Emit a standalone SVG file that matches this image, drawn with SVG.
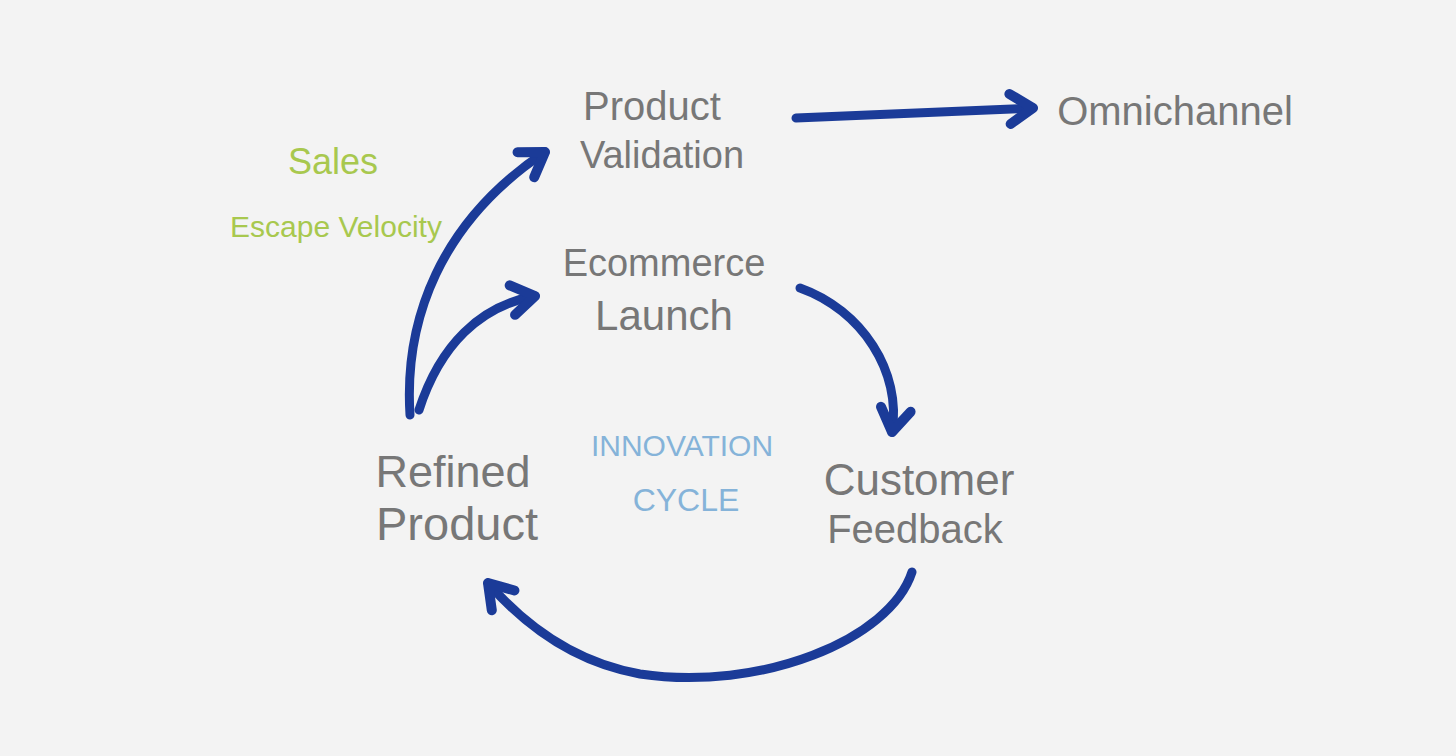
<svg xmlns="http://www.w3.org/2000/svg" width="1456" height="756" viewBox="0 0 1456 756">
<style>
.t{font-family:"Liberation Sans",Arial,sans-serif;fill:#777;text-anchor:middle}
.g{font-family:"Liberation Sans",Arial,sans-serif;fill:#a8c84e;text-anchor:middle}
.b{font-family:"Liberation Sans",Arial,sans-serif;fill:#85b3d9;text-anchor:middle}
.c{fill:none;stroke:#1b3b98;stroke-width:9;stroke-linecap:round;stroke-linejoin:round}
</style>
<defs>
<marker id="ah" markerUnits="userSpaceOnUse" markerWidth="60" markerHeight="60" viewBox="-30 -30 60 60" refX="0" refY="0" orient="auto" overflow="visible">
<path d="M-23,-15 L0,0 L-23,15" fill="none" stroke="#1b3b98" stroke-width="10" stroke-linecap="round" stroke-linejoin="round"/>
</marker>
</defs>
<rect width="1456" height="756" fill="#f3f3f3"/>
<g id="connectors">
<path class="c" d="M796,118 L1033,108" marker-end="url(#ah)"/>
<path class="c" d="M410,415 C404,320 440,222 545,152" marker-end="url(#ah)"/>
<path class="c" d="M419,410 C440,345 480,306 535,296" marker-end="url(#ah)"/>
<path class="c" d="M800,288 C862,310 902,372 892,432" marker-end="url(#ah)"/>
<path class="c" d="M912,572 C890,640 760,692 640,674 C572,662 522,622 488,583" marker-end="url(#ah)"/>
</g>
<g id="node-product-validation">
<text class="t" x="652" y="120" font-size="40">Product</text>
<text class="t" x="662" y="168" font-size="38">Validation</text>
</g>
<g id="node-omnichannel">
<text class="t" x="1175" y="125" font-size="40">Omnichannel</text>
</g>
<g id="node-ecommerce-launch">
<text class="t" x="664" y="276" font-size="38">Ecommerce</text>
<text class="t" x="664" y="330" font-size="42">Launch</text>
</g>
<g id="node-customer-feedback">
<text class="t" x="919" y="495" font-size="44">Customer</text>
<text class="t" x="915" y="543" font-size="40">Feedback</text>
</g>
<g id="node-refined-product">
<text class="t" x="453" y="487" font-size="45">Refined</text>
<text class="t" x="457" y="540" font-size="47">Product</text>
</g>
<g id="label-innovation-cycle">
<text class="b" x="682" y="456" font-size="30">INNOVATION</text>
<text class="b" x="686" y="511" font-size="32">CYCLE</text>
</g>
<g id="label-sales">
<text class="g" x="333" y="174" font-size="36">Sales</text>
<text class="g" x="336" y="237" font-size="30">Escape Velocity</text>
</g>
</svg>
